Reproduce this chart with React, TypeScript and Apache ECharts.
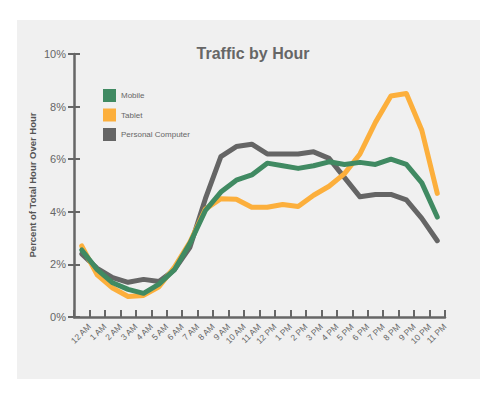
import React, { useEffect, useRef } from "react";
import * as echarts from "echarts";

const hours = [
  "12 AM", "1 AM", "2 AM", "3 AM", "4 AM", "5 AM", "6 AM", "7 AM", "8 AM", "9 AM", "10 AM", "11 AM",
  "12 PM", "1 PM", "2 PM", "3 PM", "4 PM", "5 PM", "6 PM", "7 PM", "8 PM", "9 PM", "10 PM", "11 PM",
];
const mobile = [2.55, 1.8, 1.3, 1.05, 0.9, 1.25, 1.8, 2.8, 4.05, 4.75, 5.2, 5.4, 5.85, 5.75, 5.65, 5.75, 5.9, 5.8, 5.88, 5.8, 6.0, 5.8, 5.1, 3.8];
const tablet = [2.7, 1.6, 1.1, 0.78, 0.82, 1.15, 1.9, 2.85, 4.1, 4.5, 4.48, 4.17, 4.17, 4.28, 4.2, 4.63, 4.97, 5.45, 6.2, 7.4, 8.4, 8.5, 7.1, 4.7];
const computer = [2.4, 1.85, 1.5, 1.32, 1.43, 1.35, 1.8, 2.65, 4.5, 6.1, 6.48, 6.57, 6.2, 6.2, 6.2, 6.28, 6.03, 5.3, 4.57, 4.66, 4.66, 4.45, 3.75, 2.9];
const seriesNames = ["Mobile", "Tablet", "Personal Computer"];
const yTicks = [0, 2, 4, 6, 8, 10];

const COLORS: Record<string, string> = {
  Mobile: "#408a62",
  Tablet: "#fcaf3c",
  "Personal Computer": "#656565",
};

const FONT = "'Liberation Sans', Arial, Helvetica, sans-serif";

export default function App() {
  const ref = useRef<HTMLDivElement>(null);
  useEffect(() => {
    if (!ref.current) return;
    const chart = echarts.init(ref.current, undefined, { renderer: "svg" });
    const pts = (arr: number[]) => arr.map((v, i) => [i + 0.5, v]);
    const mk = (name: string, arr: number[], z: number) => ({
      name,
      type: "line",
      data: pts(arr),
      showSymbol: false,
      symbol: "none",
      z,
      lineStyle: { color: COLORS[name], width: 5, cap: "round", join: "round" },
      itemStyle: { color: COLORS[name] },
    });
    chart.setOption({
      animation: false,
      textStyle: { fontFamily: FONT },
      graphic: [
        {
          type: "rect",
          shape: { x: 17, y: 20, width: 463, height: 359 },
          style: { fill: "#f0f0f0" },
          z: -10,
          silent: true,
        },
        {
          type: "text",
          x: 32,
          y: 185,
          rotation: Math.PI / 2,
          style: {
            text: "Percent of Total Hour Over Hour",
            fill: "#555555",
            font: `bold 9.5px ${FONT}`,
            align: "center",
            verticalAlign: "middle",
          },
        },
      ],
      title: {
        text: "Traffic by Hour",
        left: 248,
        textAlign: "center",
        top: 40,
        textStyle: { fontSize: 16, fontWeight: "bold", color: "#666666", fontFamily: FONT },
      },
      legend: {
        data: seriesNames,
        orient: "vertical",
        left: 98,
        top: 84,
        itemWidth: 13,
        itemHeight: 13,
        itemGap: 6.5,
        icon: "rect",
        selectedMode: false,
        textStyle: { fontSize: 8, color: "#666666", fontFamily: FONT },
      },
      grid: { left: 74, right: 55, top: 54, bottom: 82, containLabel: false },
      xAxis: {
        type: "value",
        min: 0,
        max: 24,
        interval: 1,
        axisLine: { show: true, lineStyle: { color: "#666666", width: 2.5 } },
        axisTick: { show: true, inside: true, length: 7, lineStyle: { color: "#666666", width: 2 } },
        splitLine: { show: false },
        axisLabel: {
          rotate: 45,
          margin: 8,
          fontSize: 8.5,
          color: "#666666",
          fontFamily: FONT,
          showMinLabel: true,
          showMaxLabel: true,
          formatter: (v: number) => (v >= 1 ? hours[Math.round(v) - 1] : ""),
        },
      },
      yAxis: [
        {
          type: "value",
          position: "left",
          min: yTicks[0],
          max: yTicks[yTicks.length - 1],
          interval: 2,
          axisLine: { show: true, lineStyle: { color: "#666666", width: 2.5 } },
          axisTick: { show: true, length: 6, lineStyle: { color: "#666666", width: 2 } },
          splitLine: { show: false },
          axisLabel: { margin: 8, fontSize: 11, color: "#666666", fontFamily: FONT, formatter: "{value}%" },
        },
        {
          type: "value",
          position: "left",
          min: yTicks[0],
          max: yTicks[yTicks.length - 1],
          interval: 2,
          axisLine: { show: false },
          axisTick: { show: true, inside: true, length: 6, lineStyle: { color: "#666666", width: 2 } },
          splitLine: { show: false },
          axisLabel: { show: false },
        },
      ],
      series: [
        mk("Personal Computer", computer, 2),
        mk("Tablet", tablet, 3),
        mk("Mobile", mobile, 4),
      ],
    });
    return () => chart.dispose();
  }, []);
  return (
    <div
      ref={ref}
      style={{ position: "fixed", left: 0, top: 0, width: 500, height: 399, background: "#ffffff" }}
    />
  );
}
